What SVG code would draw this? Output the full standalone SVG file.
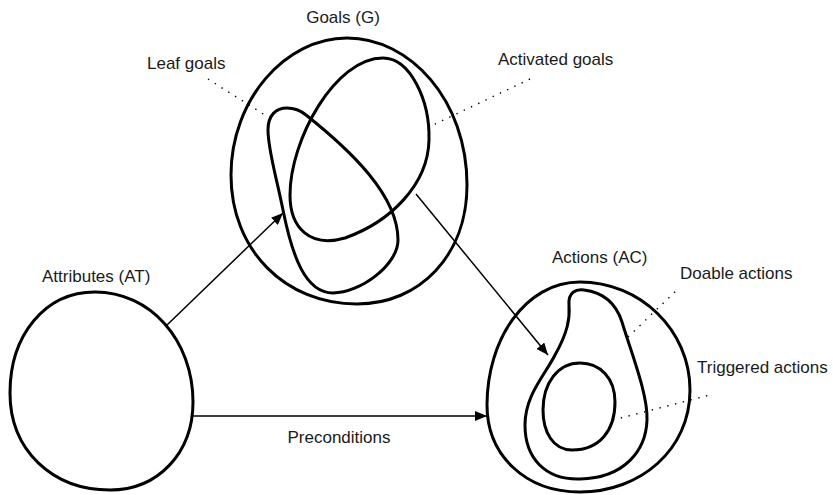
<svg xmlns="http://www.w3.org/2000/svg" width="833" height="495" viewBox="0 0 833 495">
<defs>
<style>
.blob{fill:none;stroke:#000;stroke-width:3}
.conn{fill:none;stroke:#000;stroke-width:1.5}
.lead{fill:none;stroke:#000;stroke-width:1.4;stroke-dasharray:1.4 6.6}
text{font-family:"Liberation Sans",Arial,sans-serif;font-size:17px;fill:#1a1a1a}
</style>
<marker id="ah" viewBox="0 0 12 10" refX="12" refY="5" markerWidth="12" markerHeight="10" markerUnits="userSpaceOnUse" orient="auto">
<path d="M0,0 L12,5 L0,10 Z" fill="#000"/>
</marker>
</defs>
<rect width="833" height="495" fill="#fff"/>
<g id="goals">
<path class="blob" d="M347,38 C410,38 467,100 467,185 C467,255 420,304 357,304 C285,304 231,250 231,175 C231,100 285,38 347,38 Z"/>
<text x="343" y="23" text-anchor="middle">Goals (G)</text>
</g>
<g id="activated-goals">
<path class="blob" d="M383,58 C410,58 430,100 429,140 C428,185 390,222 345,238 C310,248 290,228 290,195 C290,140 335,58 383,58 Z"/>
<text x="498" y="65">Activated goals</text>
<path class="lead" d="M530,79 L433,125"/>
</g>
<g id="leaf-goals">
<path class="blob" d="M287,108 C295,108 300,110 306,115 C350,150 398,195 398,240 C398,265 360,293 333,293 C305,293 292,255 283,210 C276,175 268,150 268,130 C268,115 276,108 287,108 Z"/>
<text x="147" y="69">Leaf goals</text>
<path class="lead" d="M208,79 L268,117"/>
</g>
<g id="attributes">
<path class="blob" d="M95,292 C150,292 193,340 193,402 C193,453 158,490 110,490 C52,490 10,450 10,393 C10,335 45,292 95,292 Z"/>
<text x="42" y="282">Attributes (AT)</text>
</g>
<g id="actions">
<path class="blob" d="M580,282 C640,282 690,330 690,390 C690,450 640,492 580,492 C525,492 487,455 487,405 C487,340 525,282 580,282 Z"/>
<text x="552" y="263">Actions (AC)</text>
</g>
<g id="doable-actions">
<path class="blob" d="M569,305 C568,292 576,289 584,290 C600,292 615,300 622,322 C632,355 648,395 647,420 C646,450 625,478 580,479 C545,480 525,458 525,425 C525,395 545,375 555,355 C568,332 570,318 569,305 Z"/>
<text x="680" y="279">Doable actions</text>
<path class="lead" d="M628,337 L680,287"/>
</g>
<g id="triggered-actions">
<path class="blob" d="M580,363 C600,363 615,378 615,402 C615,430 600,450 572,450 C553,450 543,432 543,410 C543,383 558,363 580,363 Z"/>
<text x="697" y="373">Triggered actions</text>
<path class="lead" d="M613,420 L710,395"/>
</g>
<g id="connectors">
<path class="conn" d="M167,325 L283,213" marker-end="url(#ah)"/>
<path class="conn" d="M416,194 L548,355" marker-end="url(#ah)"/>
<path class="conn" d="M193,416 L487,416" marker-end="url(#ah)"/>
<text x="339" y="443" text-anchor="middle">Preconditions</text>
</g>
</svg>
